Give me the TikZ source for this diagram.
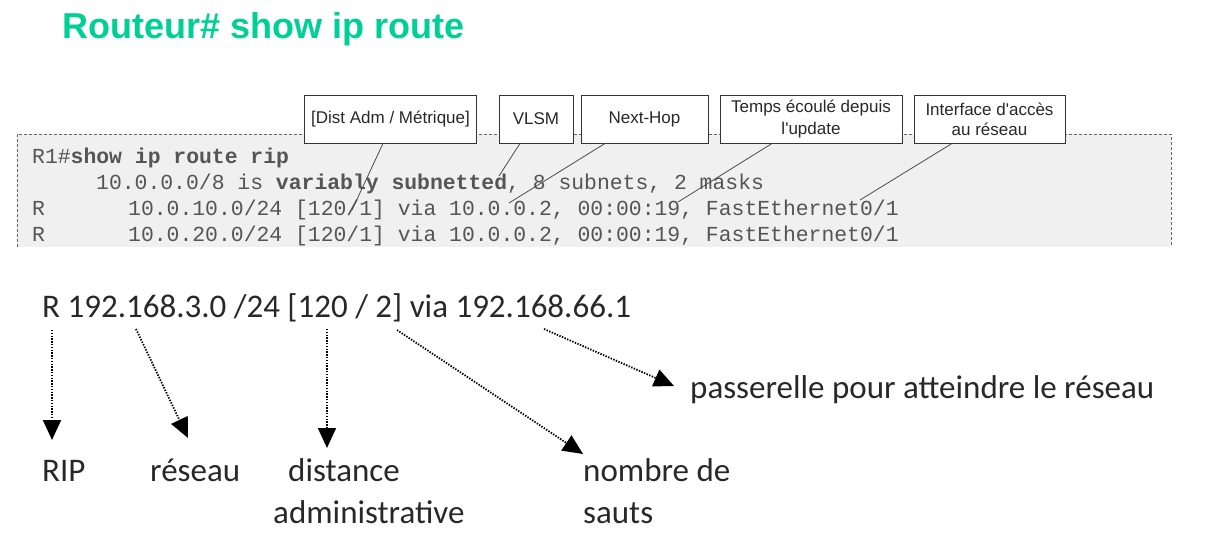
\documentclass[tikz,border=0pt]{standalone}
\usepackage{fontspec}
\setmainfont{Carlito}
\setmonofont{Liberation Mono}
\newfontfamily\arialfont{Liberation Sans}
\usetikzlibrary{arrows.meta}
\definecolor{titlegreen}{RGB}{0,207,150}
\definecolor{panelgray}{RGB}{240,240,240}
\definecolor{codegray}{RGB}{85,85,85}
\definecolor{textgray}{RGB}{40,40,40}
\begin{document}
\begin{tikzpicture}[x=1pt,y=-1pt,
  code/.style={anchor=base west,inner sep=0pt,text=codegray,font=\ttfamily\fontsize{21.4}{24}\selectfont},
  callbox/.style={draw=black!80,fill=white,line width=0.9pt,minimum height=48pt,inner sep=2pt,align=center,text=textgray,font=\arialfont\fontsize{17}{24}\selectfont},
  callline/.style={draw=black!70,line width=0.8pt},
  lbl/.style={anchor=base west,inner sep=0pt,text=textgray,font=\fontsize{33}{42}\selectfont},
  ptr/.style={line width=1.8pt,dash pattern=on 1.4pt off 1.4pt,-{Triangle[length=20pt,width=18pt]}}]
\useasboundingbox (0,0) rectangle (1232,544);

% title
\node[anchor=base west,inner sep=0pt,text=titlegreen,font=\arialfont\bfseries\fontsize{36}{40}\selectfont] (title) at (62,38) {Routeur\# show ip route};

% console extract
\fill[panelgray] (17,134) rectangle (1171,247);
\draw[black!60,line width=0.8pt,dash pattern=on 3pt off 2pt] (17,247) -- (17,134) -- (1171,134) -- (1171,247);
\node[code] (l1) at (32,163) {R1\#\textbf{show ip route rip}};
\node[code] (l2) at (96,189) {10.0.0.0/8 is \textbf{variably subnetted}, 8 subnets, 2 masks};
\node[code] (r3) at (32,215) {R};
\node[code] (l3) at (128,215) {10.0.10.0/24 [120/1] via 10.0.0.2, 00:00:19, FastEthernet0/1};
\node[code] (r4) at (32,241) {R};
\node[code] (l4) at (128,241) {10.0.20.0/24 [120/1] via 10.0.0.2, 00:00:19, FastEthernet0/1};

% callouts
\node[callbox,minimum width=172pt] (dist) at (390.5,119) {\raisebox{-2pt}{[Dist Adm / Métrique]}};
\node[callbox,minimum width=74pt] (vlsm) at (536,119) {\raisebox{-2pt}{VLSM}};
\node[callbox,minimum width=127pt] (hop) at (644.5,119) {\raisebox{-2pt}{Next-Hop}};
\node[callbox,minimum width=182pt] (temps) at (811,119) {\raisebox{-2pt}{\shortstack{Temps écoulé depuis\\[4pt]l'update}}};
\node[callbox,minimum width=151pt] (iface) at (989.5,119) {\raisebox{-2pt}{\shortstack{Interface d'accès\\[4pt]au réseau}}};

\coordinate (pDist) at (352,210);
\coordinate (pVlsm) at (499,176);
\coordinate (pHop) at (509,203);
\coordinate (pTemps) at (678,202);
\coordinate (pIface) at (860,200);
\draw[callline] ([xshift=-7.5pt]dist.south) -- (pDist);
\draw[callline] ([xshift=-16pt]vlsm.south) -- (pVlsm);
\draw[callline] ([xshift=-39.5pt]hop.south) -- (pHop);
\draw[callline] ([xshift=-39pt]temps.south) -- (pTemps);
\draw[callline] ([xshift=-37.5pt]iface.south) -- (pIface);

% route explained
\node[lbl] (route) at (42,317) {R 192.168.3.0 /24 [120 / 2] via 192.168.66.1};
\node[lbl] (rip) at (42,481) {RIP};
\node[lbl] (reseau) at (150,481) {réseau};
\node[lbl,align=left] (dist2) at (273,523) {\hspace*{15pt}distance\\administrative};
\node[lbl,align=left] (sauts) at (583,523) {nombre de\\sauts};
\node[lbl] (gw) at (690,398) {passerelle pour atteindre le réseau};

\coordinate (sR) at (52,330);   \coordinate (tR) at (52,440);
\coordinate (sNet) at (136,329); \coordinate (tNet) at (188,438);
\coordinate (sAd) at (327,329); \coordinate (tAd) at (327,448);
\coordinate (sHop) at (397,330); \coordinate (tHop) at (583,454);
\coordinate (sGw) at (544,329); \coordinate (tGw) at (674,386);
\draw[ptr] (sR) -- (tR);
\draw[ptr] (sNet) -- (tNet);
\draw[ptr] (sAd) -- (tAd);
\draw[ptr] (sHop) -- (tHop);
\draw[ptr] (sGw) -- (tGw);
\end{tikzpicture}
\end{document}
